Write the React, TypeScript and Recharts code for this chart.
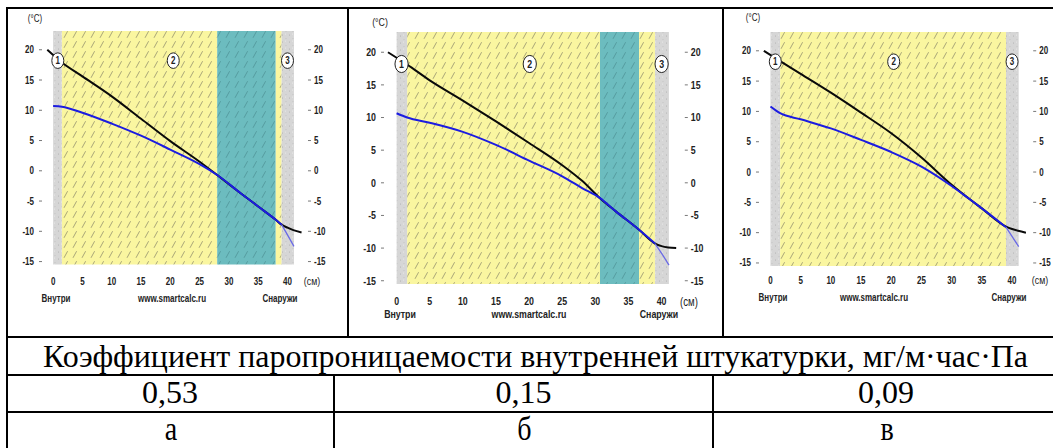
import React from "react";
import {
  ComposedChart,
  Line,
  XAxis,
  YAxis,
  ReferenceArea,
  ReferenceDot,
} from "recharts";

// axis ticks shared by the three panels
const xTicks = [0, 5, 10, 15, 20, 25, 30, 35, 40];
const yTicks = [20, 15, 10, 5, 0, -5, -10, -15];
const layerLabels = ["1", "2", "3"];

// panel "а" (0,53)
const bandEdgesA = [0, 1.5, 28, 38, 39, 41.1];
const bandKindsA = ["gray", "yellow", "teal", "yellow", "gray"];
const markerXA = [0.8, 20.5, 40];
const blackXA = [-1, 1.5, 5, 10, 15, 20, 25, 28, 32, 35, 38, 39, 40, 41, 42.4];
const blackA = [20.0, 17.9, 15.6, 12.3, 8.6, 4.9, 1.5, -0.7, -3.7, -5.9, -8.1, -8.9, -9.4, -9.8, -10.2];
const blueXA = [0, 1.5, 5, 10, 15, 20, 25, 28, 32, 35, 38, 39];
const blueA = [10.7, 10.6, 9.6, 7.8, 5.8, 3.5, 1.1, -0.7, -3.7, -5.9, -8.1, -8.9];
const tailXA = [39, 40, 41.1];
const tailA = [-8.9, -10.6, -12.5];

// panel "б" (0,15)
const bandEdgesB = [0, 1.6, 30.7, 36.6, 39, 41.1];
const bandKindsB = ["gray", "yellow", "teal", "yellow", "gray"];
const markerXB = [0.75, 20.1, 40];
const blackXB = [-1.3, 1.6, 5, 10, 15, 20, 25, 28, 30.7, 33, 36.6, 39, 40, 41, 42.2];
const blackB = [20.0, 18.1, 15.7, 12.6, 9.4, 6.1, 2.7, 0.3, -2.35, -4.3, -7.2, -9.3, -9.7, -9.9, -10.0];
const blueXB = [0, 1.6, 5, 10, 15, 20, 25, 28, 30.7, 33, 36.6, 39];
const blueB = [10.65, 10.0, 9.2, 7.8, 5.8, 3.4, 1.0, -0.8, -2.35, -4.3, -7.2, -9.3];
const tailXB = [39, 40, 41.1];
const tailB = [-9.3, -10.8, -12.6];

// panel "в" (0,09)
const bandEdgesC = [0, 1.6, 39, 41.1];
const bandKindsC = ["gray", "yellow", "gray"];
const markerXC = [0.8, 20.4, 40];
const blackXC = [-1.1, 1.6, 5, 10, 15, 20, 25, 30, 33, 35, 39, 40, 41, 42.3];
const blackC = [20.0, 18.3, 16.2, 13.1, 9.8, 6.4, 2.4, -2.1, -4.5, -6.0, -9.0, -9.4, -9.7, -10.0];
const blueXC = [0, 1.6, 5, 10, 15, 20, 25, 30, 33, 35, 39];
const blueC = [10.8, 9.7, 8.7, 7.2, 5.3, 3.3, 0.9, -2.3, -4.5, -6.0, -9.1];
const tailXC = [39, 40, 41.1];
const tailC = [-9.1, -10.6, -12.3];

// table texts
const headerText = "Коэффициент паропроницаемости внутренней штукатурки, мг/м·час·Па";
const coefValues = ["0,53", "0,15", "0,09"];
const panelNames = ["а", "б", "в"];
const colCenters = [170, 523.5, 886];

const xDomain = [-1.9, 43.5];
const yDomain = [-15.5, 23.1];
const markerY = 18.2;

const sans = "'Liberation Sans', Arial, sans-serif";
const serif = "'Liberation Serif', 'Times New Roman', serif";
const SQUEEZE = 0.8;

const toPoints = (xs: number[], ys: number[]) => xs.map((x, i) => ({ x, t: ys[i] }));
const toBands = (edges: number[], kinds: string[]) =>
  kinds.map((kind, i) => ({ from: edges[i], to: edges[i + 1], kind }));

const LW = 34;
const RW = 26;
const TOP = 12;
const XH = 26;

// condensed bold text, like the narrow font of the original program
function Narrow({ x, y, anchor = "middle", dy = "0.35em", fs, bold = true, children }: any) {
  return (
    <text
      transform={`translate(${x},${y}) scale(${SQUEEZE},1)`}
      x={0}
      y={0}
      dy={dy}
      textAnchor={anchor}
      fontSize={fs}
      fontWeight={bold ? "bold" : "normal"}
      fontFamily={sans}
      fill="#222"
    >
      {children}
    </text>
  );
}

function makeTick(fs: number, anchor: string, dy: string) {
  return (p: any) => (
    <Narrow x={p.x} y={p.y} anchor={anchor} dy={dy} fs={fs}>
      {p.payload.value}
    </Narrow>
  );
}

function LayerMark(props: any) {
  const { cx, cy, label, fs } = props;
  return (
    <g>
      <ellipse cx={cx} cy={cy} rx={fs * 0.6} ry={fs * 0.78} fill="#fff" stroke="#222" strokeWidth={1} />
      <Narrow x={cx} y={cy} fs={fs}>
        {label}
      </Narrow>
    </g>
  );
}

function Panel({ id, box, fs, xGap, bands, markers, black, blue, tail }: any) {
  const w = box.x1 - box.x0;
  const h = box.y1 - box.y0;
  return (
    <div style={{ position: "absolute", left: box.x0 - LW, top: box.y0 - TOP }}>
      <ComposedChart
        width={w + LW + RW}
        height={h + TOP + XH}
        margin={{ top: TOP, right: 0, bottom: 0, left: 0 }}
      >
        <defs>
          <pattern id={`${id}-yellow`} patternUnits="userSpaceOnUse" width="9" height="10">
            <rect width="9" height="10" fill="#faf6a0" />
            <line x1="2" y1="8.8" x2="5.6" y2="2.2" stroke="#858266" strokeWidth="0.7" />
          </pattern>
          <pattern id={`${id}-teal`} patternUnits="userSpaceOnUse" width="9" height="10">
            <rect width="9" height="10" fill="#6cbcbf" />
            <line x1="2" y1="8.8" x2="5.6" y2="2.2" stroke="#4a8d90" strokeWidth="0.7" />
          </pattern>
          <pattern id={`${id}-gray`} patternUnits="userSpaceOnUse" width="7" height="7">
            <rect width="7" height="7" fill="#d6d6d6" />
            <circle cx="1.5" cy="2" r="0.5" fill="#a8a8a8" />
            <circle cx="5" cy="5.5" r="0.45" fill="#b4b4b4" />
            <circle cx="4.5" cy="1" r="0.5" fill="#efefef" />
          </pattern>
        </defs>
        <XAxis
          type="number"
          dataKey="x"
          domain={xDomain}
          ticks={xTicks}
          interval={0}
          allowDataOverflow
          axisLine={false}
          tickLine={false}
          tickSize={0}
          tickMargin={xGap}
          height={XH}
          tick={makeTick(fs + 1, "middle", "0.71em")}
        />
        <YAxis
          yAxisId="l"
          type="number"
          domain={yDomain}
          ticks={yTicks}
          interval={0}
          allowDataOverflow
          axisLine={false}
          tickLine={{ stroke: "#777" }}
          tickSize={3}
          tickMargin={5}
          width={LW}
          tick={makeTick(fs + 1, "end", "0.35em")}
        />
        <YAxis
          yAxisId="r"
          orientation="right"
          type="number"
          domain={yDomain}
          ticks={yTicks}
          interval={0}
          allowDataOverflow
          axisLine={false}
          tickLine={{ stroke: "#777" }}
          tickSize={3}
          tickMargin={3}
          width={RW}
          tick={makeTick(fs + 1, "start", "0.35em")}
        />
        {bands.map((b: any, i: number) => (
          <ReferenceArea
            key={i}
            yAxisId="l"
            x1={b.from}
            x2={b.to}
            fill={`url(#${id}-${b.kind})`}
            fillOpacity={1}
            stroke="none"
            ifOverflow="visible"
          />
        ))}
        <Line
          yAxisId="l"
          data={black}
          dataKey="t"
          type="monotone"
          stroke="#0a0a0a"
          strokeWidth={2}
          dot={false}
          isAnimationActive={false}
        />
        <Line
          yAxisId="l"
          data={blue}
          dataKey="t"
          type="monotone"
          stroke="#1c1ce0"
          strokeWidth={2}
          dot={false}
          isAnimationActive={false}
        />
        <Line
          yAxisId="l"
          data={tail}
          dataKey="t"
          type="monotone"
          stroke="#6a6ae6"
          strokeWidth={1.3}
          dot={false}
          isAnimationActive={false}
        />
        {markers.map((mx: number, i: number) => (
          <ReferenceDot
            key={i}
            yAxisId="l"
            x={mx}
            y={markerY}
            r={6}
            ifOverflow="visible"
            shape={(p: any) => <LayerMark {...p} label={layerLabels[i]} fs={fs + 1} />}
          />
        ))}
      </ComposedChart>
    </div>
  );
}

const panels = [
  {
    id: "pa",
    box: { x0: 41.6, x1: 307.6, y0: 31.2, y1: 264.8 },
    fs: 9,
    xGap: 13,
    bands: toBands(bandEdgesA, bandKindsA),
    markers: markerXA,
    black: toPoints(blackXA, blackA),
    blue: toPoints(blueXA, blueA),
    tail: toPoints(tailXA, tailA),
  },
  {
    id: "pb",
    box: { x0: 384.1, x1: 684.9, y0: 32.1, y1: 284.1 },
    fs: 10,
    xGap: 13,
    bands: toBands(bandEdgesB, bandKindsB),
    markers: markerXB,
    black: toPoints(blackXB, blackB),
    blue: toPoints(blueXB, blueB),
    tail: toPoints(tailXB, tailB),
  },
  {
    id: "pc",
    box: { x0: 758.5, x1: 1032.7, y0: 31.5, y1: 265.5 },
    fs: 9,
    xGap: 11,
    bands: toBands(bandEdgesC, bandKindsC),
    markers: markerXC,
    black: toPoints(blackXC, blackC),
    blue: toPoints(blueXC, blueC),
    tail: toPoints(tailXC, tailC),
  },
];

// free texts around each panel
const panelNotes = [
  { deg: [35, 18], cm: [312, 281], y: 298, inside: 56, site: 172, outside: 280, fs: 10 },
  { deg: [380, 22], cm: [689, 302], y: 314, inside: 400, site: 529, outside: 659, fs: 11 },
  { deg: [753, 17], cm: [1040, 280], y: 297, inside: 773, site: 874, outside: 1009, fs: 10 },
];

export default function App() {
  return (
    <div
      style={{
        position: "absolute",
        left: 0,
        top: 0,
        width: 1053,
        height: 448,
        background: "#fff",
        overflow: "hidden",
      }}
    >
      {panels.map((p) => (
        <Panel key={p.id} {...p} />
      ))}
      <svg
        width={1053}
        height={448}
        style={{ position: "absolute", left: 0, top: 0, pointerEvents: "none" }}
      >
        {panelNotes.map((n, i) => (
          <g key={i}>
            <Narrow x={n.deg[0]} y={n.deg[1]} fs={n.fs} bold={false}>(°C)</Narrow>
            <Narrow x={n.cm[0]} y={n.cm[1]} fs={n.fs + 1} bold={false}>(см)</Narrow>
            <Narrow x={n.inside} y={n.y} fs={n.fs}>Внутри</Narrow>
            <Narrow x={n.site} y={n.y} fs={n.fs}>www.smartcalc.ru</Narrow>
            <Narrow x={n.outside} y={n.y} fs={n.fs}>Снаружи</Narrow>
          </g>
        ))}

        {/* table grid */}
        <g fill="#000">
          <rect x={6} y={7} width={1047} height={2} />
          <rect x={6} y={7} width={2} height={441} />
          <rect x={347} y={7} width={2} height={330} />
          <rect x={722} y={7} width={2} height={330} />
          <rect x={6} y={336} width={1047} height={2} />
          <rect x={6} y={374} width={1047} height={2} />
          <rect x={6} y={411} width={1047} height={2} />
          <rect x={333} y={374} width={2} height={74} />
          <rect x={712} y={374} width={2} height={74} />
        </g>

        <g fontFamily={serif} fill="#000">
          <text x={535.5} y={367} textAnchor="middle" fontSize={32} textLength={985} lengthAdjust="spacingAndGlyphs">
            {headerText}
          </text>
          {coefValues.map((v, i) => (
            <text key={v} x={colCenters[i]} y={403} textAnchor="middle" fontSize={32}>
              {v}
            </text>
          ))}
          {panelNames.map((v, i) => (
            <text
              key={v}
              transform={`translate(${colCenters[i] + 1},440) scale(0.85,1)`}
              textAnchor="middle"
              fontSize={33}
            >
              {v}
            </text>
          ))}
        </g>
      </svg>
    </div>
  );
}
